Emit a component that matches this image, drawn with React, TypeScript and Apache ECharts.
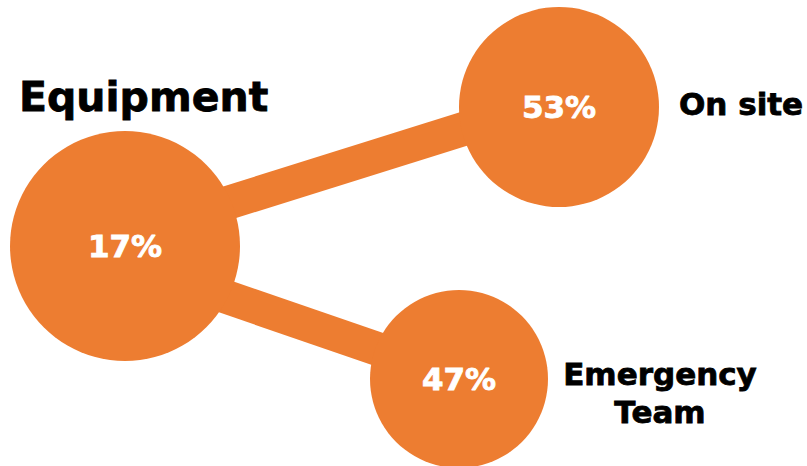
import React, { useEffect, useRef } from "react";
import * as echarts from "echarts";

// ---- data ----
const categories = ["Equipment", "On site", "Emergency Team"];
const values = [17, 53, 47];
const links: [number, number][] = [
  [0, 1],
  [0, 2],
];

// ---- layout (pixels in a 807x466 frame) ----
const W = 807;
const H = 466;
const ORANGE = "#ED7D31";
const FONT = "DejaVu Sans";
const nodeCenters: [number, number][] = [
  [125, 246],
  [559, 107],
  [459, 379],
];
const nodeDiameters = [230, 200, 178];
const linkEnds: [number, number][][] = [
  [
    [125, 235],
    [559, 99],
  ],
  [
    [125, 262],
    [459, 377],
  ],
];
const nameLayout = [
  { x: 19, y: 97, size: 41, align: "left" },
  { x: 679, y: 104, size: 31, align: "left" },
  { x: 660, y: 374, size: 31, align: "center", lineGap: 38 },
];

export default function App() {
  const ref = useRef<HTMLDivElement>(null);

  useEffect(() => {
    document.body.style.margin = "0";
    if (!ref.current) return;
    const chart = echarts.init(ref.current, undefined, { renderer: "svg" });

    const nameTexts: any[] = [];
    categories.forEach((c, i) => {
      const L = nameLayout[i] as any;
      const words = i === 2 ? c.split(" ") : [c];
      words.forEach((w, k) => {
        nameTexts.push({
          type: "text",
          x: L.x,
          y: L.y + k * (L.lineGap || 0),
          style: {
            text: w,
            fill: "#000000",
            stroke: "#000000",
            lineWidth: 0.8,
            font: `bold ${L.size}px "${FONT}"`,
            align: L.align,
            verticalAlign: "middle",
          },
        });
      });
    });

    chart.setOption({
      animation: false,
      backgroundColor: "#ffffff",
      grid: { left: 0, right: 0, top: 0, bottom: 0 },
      xAxis: { type: "value", min: 0, max: W, show: false },
      yAxis: { type: "value", min: 0, max: H, inverse: true, show: false },
      series: [
        {
          type: "lines",
          coordinateSystem: "cartesian2d",
          z: 1,
          silent: true,
          lineStyle: { color: ORANGE, width: 34, opacity: 1, curveness: 0 },
          data: links.map((l, i) => ({
            name: `${categories[l[0]]} - ${categories[l[1]]}`,
            coords: linkEnds[i],
          })),
        },
        {
          type: "scatter",
          z: 2,
          silent: true,
          clip: false,
          data: values.map((v, i) => ({
            name: categories[i],
            value: [nodeCenters[i][0], nodeCenters[i][1], v],
            symbolSize: nodeDiameters[i],
          })),
          itemStyle: { color: ORANGE, opacity: 1 },
          label: {
            show: true,
            position: "inside",
            formatter: (p: any) => `${values[p.dataIndex]}%`,
            color: "#ffffff",
            textBorderColor: "#ffffff",
            textBorderWidth: 0.8,
            fontFamily: FONT,
            fontWeight: "bold",
            fontSize: 31,
          },
        },
      ],
      graphic: nameTexts,
    });

    return () => chart.dispose();
  }, []);

  return <div ref={ref} style={{ width: W, height: H }} />;
}
